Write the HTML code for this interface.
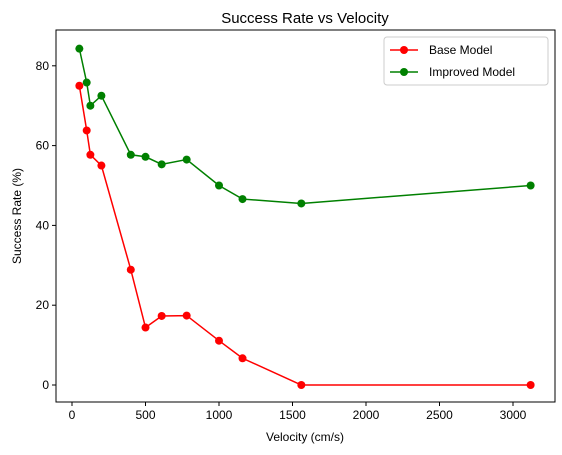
<!DOCTYPE html>
<html><head><meta charset="utf-8"><style>
body{margin:0;background:#fff;}
svg{display:block;font-family:"Liberation Sans","DejaVu Sans",sans-serif;}
</style></head><body>
<svg id="chart" width="562" height="455"></svg>
<script>
const velocities=[50,100,125,200,400,500,610,780,1000,1160,1560,3120];
const baseModel=[75,63.8,57.7,55,28.9,14.4,17.3,17.4,11.1,6.7,0,0];
const improvedModel=[84.3,75.8,70,72.5,57.7,57.2,55.3,56.5,50,46.6,45.5,50];
const xTicks=[0,500,1000,1500,2000,2500,3000];
const yTicks=[0,20,40,60,80];
const NS="http://www.w3.org/2000/svg";
const svg=document.getElementById('chart');
const L=56,R=555,T=30,B=402;
const xS=v=>72+v*0.147;
const yS=v=>385-v*3.99;
function el(tag,attrs,parent){const e=document.createElementNS(NS,tag);for(const k in attrs)e.setAttribute(k,attrs[k]);(parent||svg).appendChild(e);return e;}
const t=el('text',{x:305,y:23,'text-anchor':'middle','font-size':15,fill:'#000'});t.textContent='Success Rate vs Velocity';


xTicks.forEach(v=>{const x=xS(v);el('line',{x1:x,x2:x,y1:B,y2:B+4,stroke:'#000'});
const tx=el('text',{x:x,y:B+17,'text-anchor':'middle','font-size':12});tx.textContent=v;

});
yTicks.forEach(v=>{const y=yS(v);el('line',{x1:L-4,x2:L,y1:y,y2:y,stroke:'#000'});
const tx=el('text',{x:L-7,y:y+4,'text-anchor':'end','font-size':12});tx.textContent=v;

});
const xl=el('text',{x:305,y:441,'text-anchor':'middle','font-size':12});xl.textContent='Velocity (cm/s)';


const yl=el('text',{x:21,y:216,'text-anchor':'middle','font-size':12,transform:'rotate(-90 21 216)'});yl.textContent='Success Rate (%)';


function series(vals,color,name){
const g=el('g',{});


el('polyline',{points:velocities.map((v,i)=>xS(v)+','+yS(vals[i])).join(' '),fill:'none',stroke:color,'stroke-width':1.5},g);
velocities.forEach((v,i)=>{const c=el('circle',{cx:xS(v),cy:yS(vals[i]),r:4,fill:color},g);

});}
series(baseModel,'#ff0000','base-model-series');
series(improvedModel,'#008000','improved-model-series');
const fr=el('rect',{x:L,y:T,width:R-L,height:B-T,fill:'none',stroke:'#000','stroke-width':1});


const lg=el('g',{});


el('rect',{x:384,y:37,width:164,height:48,rx:3,fill:'#fff',stroke:'#ccc'},lg);
[['Base Model','#ff0000',50],['Improved Model','#008000',72]].forEach(([n,c,y])=>{
el('line',{x1:390,x2:418,y1:y,y2:y,stroke:c,'stroke-width':1.5},lg);
el('circle',{cx:404,cy:y,r:4,fill:c},lg);
const tx=el('text',{x:429,y:y+4,'font-size':12},lg);tx.textContent=n;

});
</script>
</body></html>
